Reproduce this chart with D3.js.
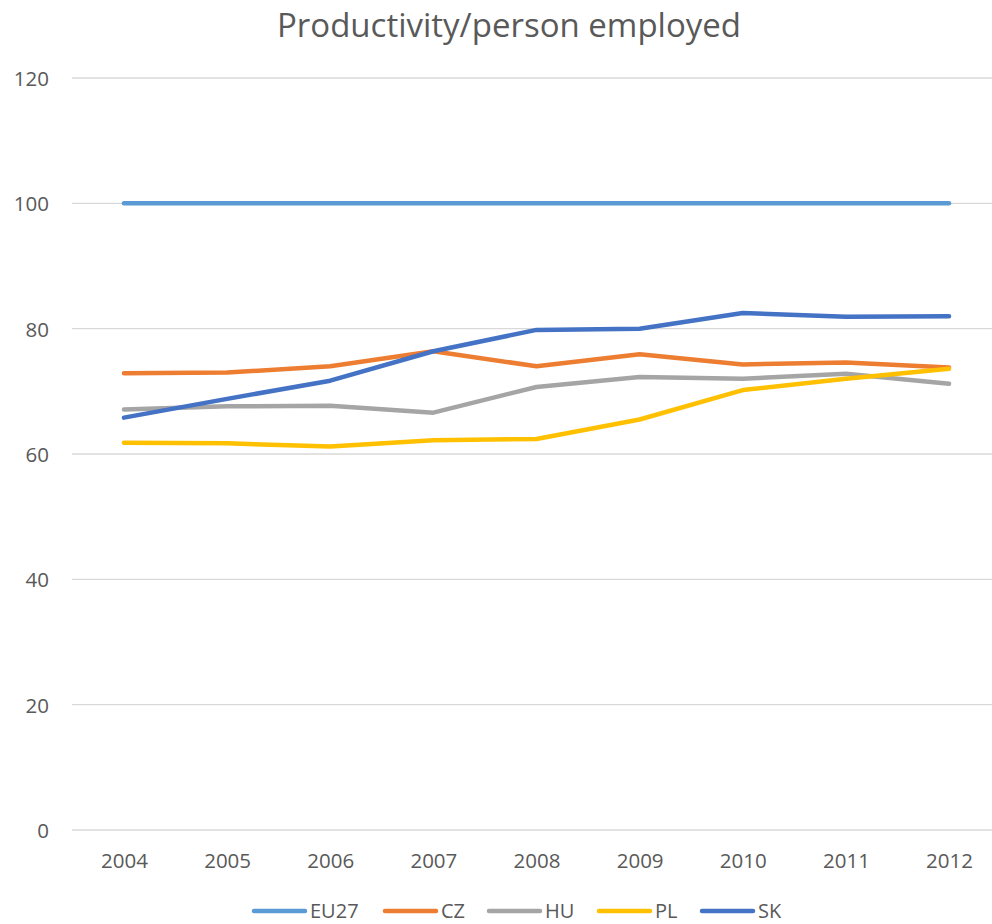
<!DOCTYPE html>
<html>
<head>
<meta charset="utf-8">
<script src="https://cdn.jsdelivr.net/npm/d3@7"></script>
<style>
  html, body { margin: 0; padding: 0; background: #fff; }
  svg { display: block; }
  text { font-family: "Open Sans", sans-serif; fill: #595959; }
</style>
</head>
<body>
<svg id="chart" width="992" height="924"></svg>
<script>
const title = "Productivity/person employed";
const years = ["2004","2005","2006","2007","2008","2009","2010","2011","2012"];
const yTicks = [0, 20, 40, 60, 80, 100, 120];
const seriesNames = ["EU27", "CZ", "HU", "PL", "SK"];
const EU27 = [100, 100, 100, 100, 100, 100, 100, 100, 100];
const CZ   = [72.9, 73.0, 74.0, 76.4, 74.0, 75.9, 74.3, 74.6, 73.8];
const HU   = [67.1, 67.6, 67.7, 66.6, 70.7, 72.3, 72.0, 72.8, 71.2];
const PL   = [61.8, 61.7, 61.2, 62.2, 62.4, 65.5, 70.2, 72.0, 73.6];
const SK   = [65.8, 68.8, 71.7, 76.4, 79.8, 80.0, 82.5, 81.9, 82.0];
const seriesValues = [EU27, CZ, HU, PL, SK];
const colors = ["#5B9BD5", "#ED7D31", "#A5A5A5", "#FFC000", "#4472C4"];

const svg = d3.select("#chart");

const x = d3.scalePoint().domain(years).range([72.4, 1000.6]).padding(0.5);
const y = d3.scaleLinear().domain([0, 120]).range([830, 78]);

// gridlines
svg.append("g").selectAll("line").data(yTicks).join("line")
  .attr("x1", 72).attr("x2", 992)
  .attr("y1", d => y(d)).attr("y2", d => y(d))
  .attr("stroke", "#D9D9D9").attr("stroke-width", 1.3);

// y axis labels
const yAxis = d3.axisLeft(y).tickValues(yTicks).tickSize(0).tickPadding(0);
const gy = svg.append("g").attr("transform", "translate(49,0)").call(yAxis);
gy.select(".domain").remove();
gy.selectAll("text").attr("font-size", "20.5px").attr("font-family", "Open Sans, sans-serif")
  .attr("fill", "#595959").attr("dy", "0.36em");

// x axis labels
const xAxis = d3.axisBottom(x).tickSize(0).tickPadding(0);
const gx = svg.append("g").attr("transform", "translate(0,853)").call(xAxis);
gx.select(".domain").remove();
gx.selectAll("text").attr("font-size", "20.5px").attr("font-family", "Open Sans, sans-serif")
  .attr("fill", "#595959").attr("dy", "0.72em");

// lines
const line = d3.line().x((d, i) => x(years[i])).y(d => y(d));
svg.append("g").selectAll("path").data(seriesValues).join("path")
  .attr("d", d => line(d))
  .attr("fill", "none")
  .attr("stroke", (d, i) => colors[i])
  .attr("stroke-width", 4.5)
  .attr("stroke-linecap", "round")
  .attr("stroke-linejoin", "round");

// title
svg.append("text").attr("x", 509).attr("y", 37).attr("text-anchor", "middle")
  .attr("font-size", "33px").text(title);

// legend
const legendX = [252, 383, 487, 597, 700];
const lg = svg.append("g").selectAll("g").data(seriesNames).join("g")
  .attr("transform", (d, i) => `translate(${legendX[i]},911)`);
lg.append("line").attr("x1", 2).attr("x2", 53).attr("y1", 0).attr("y2", 0)
  .attr("stroke", (d, i) => colors[i]).attr("stroke-width", 4.5).attr("stroke-linecap", "round");
lg.append("text").attr("x", 58).attr("y", 7).attr("font-size", "20px").text(d => d);
</script>
</body>
</html>
